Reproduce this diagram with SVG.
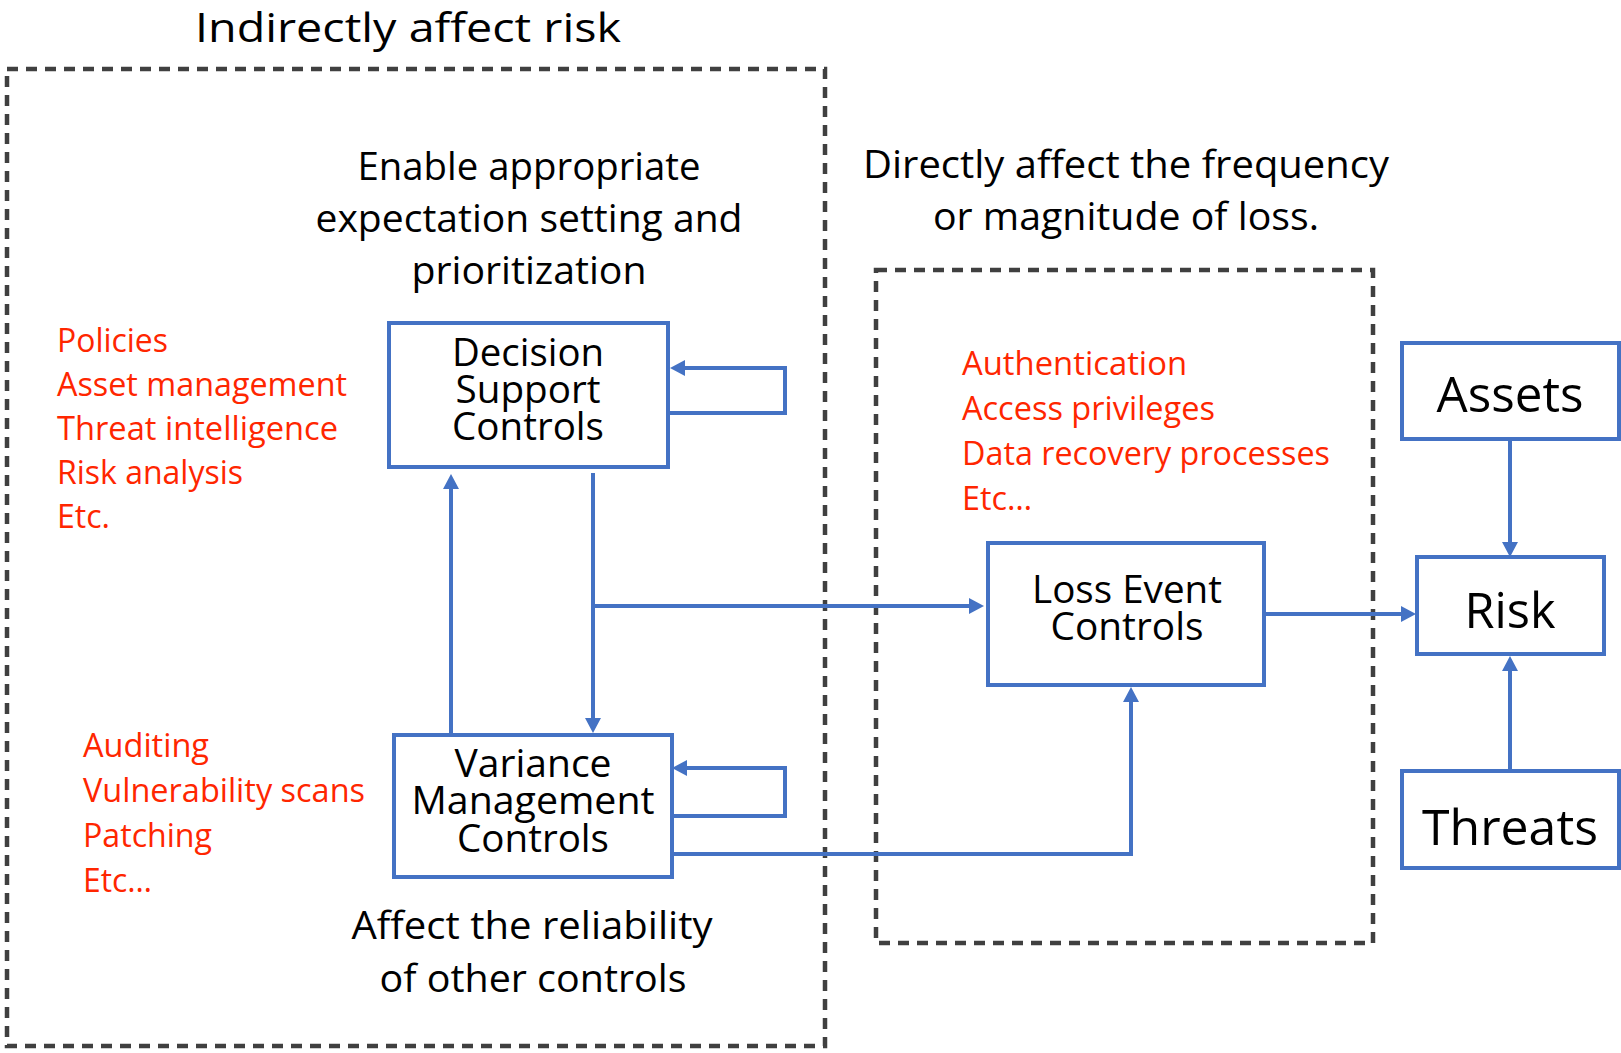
<svg xmlns="http://www.w3.org/2000/svg" width="1621" height="1053" viewBox="0 0 1621 1053">
<style>
.dash{fill:none;stroke:#404040;stroke-width:4.5;stroke-dasharray:11 8}
.box{fill:#fff;stroke:#4472C4;stroke-width:4}
.con{fill:none;stroke:#4472C4;stroke-width:4}
text{font-family:"Open Sans","Noto Sans",sans-serif;fill:#000}
.red{fill:#FF2600;font-size:32px}
.ann{font-size:39px;text-anchor:middle}
.lbl{font-size:38px;text-anchor:middle}
.big{font-size:50px;text-anchor:middle}
</style>
<defs>
<marker id="ah" viewBox="0 0 15 16" markerWidth="15" markerHeight="16" refX="5" refY="8" orient="auto" markerUnits="userSpaceOnUse">
<path d="M0,0 L15,8 L0,16 z" fill="#4472C4"/>
</marker>
</defs>
<rect width="1621" height="1053" fill="#fff"/>

<g id="regions">
<rect class="dash" x="7" y="69" width="818" height="977"/>
<rect class="dash" x="876" y="270" width="497" height="673"/>
</g>

<g id="annotations">
<text x="408" y="42" style="font-size:41px;text-anchor:middle" textLength="426" lengthAdjust="spacingAndGlyphs">Indirectly affect risk</text>
<text class="ann" x="529" y="180" textLength="343" lengthAdjust="spacingAndGlyphs">Enable appropriate</text>
<text class="ann" x="529" y="232" textLength="427" lengthAdjust="spacingAndGlyphs">expectation setting and</text>
<text class="ann" x="529" y="284" textLength="235" lengthAdjust="spacingAndGlyphs">prioritization</text>
<text class="ann" x="1126" y="178" textLength="526" lengthAdjust="spacingAndGlyphs">Directly affect the frequency</text>
<text class="ann" x="1126" y="230" textLength="386" lengthAdjust="spacingAndGlyphs">or magnitude of loss.</text>
<text class="ann" x="532" y="939" textLength="361" lengthAdjust="spacingAndGlyphs">Affect the reliability</text>
<text class="ann" x="533" y="992" textLength="307" lengthAdjust="spacingAndGlyphs">of other controls</text>
</g>

<g id="examples-decision">
<text class="red" x="57" y="352" textLength="111" lengthAdjust="spacingAndGlyphs">Policies</text>
<text class="red" x="57" y="396" textLength="290" lengthAdjust="spacingAndGlyphs">Asset management</text>
<text class="red" x="57" y="440" textLength="281" lengthAdjust="spacingAndGlyphs">Threat intelligence</text>
<text class="red" x="57" y="484" textLength="186" lengthAdjust="spacingAndGlyphs">Risk analysis</text>
<text class="red" x="57" y="528" textLength="53" lengthAdjust="spacingAndGlyphs">Etc.</text>
</g>

<g id="examples-variance">
<text class="red" x="83" y="757" textLength="126" lengthAdjust="spacingAndGlyphs">Auditing</text>
<text class="red" x="83" y="802" textLength="282" lengthAdjust="spacingAndGlyphs">Vulnerability scans</text>
<text class="red" x="83" y="847" textLength="129" lengthAdjust="spacingAndGlyphs">Patching</text>
<text class="red" x="83" y="892" textLength="69" lengthAdjust="spacingAndGlyphs">Etc…</text>
</g>

<g id="examples-loss">
<text class="red" x="962" y="375" textLength="225" lengthAdjust="spacingAndGlyphs">Authentication</text>
<text class="red" x="962" y="420" textLength="253" lengthAdjust="spacingAndGlyphs">Access privileges</text>
<text class="red" x="962" y="465" textLength="368" lengthAdjust="spacingAndGlyphs">Data recovery processes</text>
<text class="red" x="962" y="510" textLength="70" lengthAdjust="spacingAndGlyphs">Etc…</text>
</g>

<g id="connectors">
<path class="con" d="M451,735 V484" marker-end="url(#ah)"/>
<path class="con" d="M593,473 V723" marker-end="url(#ah)"/>
<path class="con" d="M593,606 H974" marker-end="url(#ah)"/>
<path class="con" d="M1264,614 H1406" marker-end="url(#ah)"/>
<path class="con" d="M1510,439 V547" marker-end="url(#ah)"/>
<path class="con" d="M1510,771 V666" marker-end="url(#ah)"/>
<path class="con" d="M672,854 H1131 V697" marker-end="url(#ah)"/>
<path class="con" d="M668,413 H785 V368 H680" marker-end="url(#ah)"/>
<path class="con" d="M672,816 H785 V768 H682" marker-end="url(#ah)"/>
</g>

<g id="decision-support-controls">
<rect class="box" x="389" y="323" width="279" height="144"/>
<text class="lbl" x="528" y="366" textLength="152" lengthAdjust="spacingAndGlyphs">Decision</text>
<text class="lbl" x="528" y="403" textLength="145" lengthAdjust="spacingAndGlyphs">Support</text>
<text class="lbl" x="528" y="440" textLength="152" lengthAdjust="spacingAndGlyphs">Controls</text>
</g>

<g id="variance-management-controls">
<rect class="box" x="394" y="735" width="278" height="142"/>
<text class="lbl" x="533" y="777" textLength="157" lengthAdjust="spacingAndGlyphs">Variance</text>
<text class="lbl" x="533" y="814" textLength="243" lengthAdjust="spacingAndGlyphs">Management</text>
<text class="lbl" x="533" y="852" textLength="152" lengthAdjust="spacingAndGlyphs">Controls</text>
</g>

<g id="loss-event-controls">
<rect class="box" x="988" y="543" width="276" height="142"/>
<text class="lbl" x="1127" y="603" textLength="190" lengthAdjust="spacingAndGlyphs">Loss Event</text>
<text class="lbl" x="1127" y="640" textLength="153" lengthAdjust="spacingAndGlyphs">Controls</text>
</g>

<g id="assets">
<rect class="box" x="1402" y="343" width="217" height="96"/>
<text class="big" x="1510" y="412" textLength="147" lengthAdjust="spacingAndGlyphs">Assets</text>
</g>

<g id="risk">
<rect class="box" x="1417" y="557" width="187" height="97"/>
<text class="big" x="1510" y="628" textLength="91" lengthAdjust="spacingAndGlyphs">Risk</text>
</g>

<g id="threats">
<rect class="box" x="1402" y="771" width="217" height="97"/>
<text class="big" x="1510" y="845" textLength="176" lengthAdjust="spacingAndGlyphs">Threats</text>
</g>
</svg>
